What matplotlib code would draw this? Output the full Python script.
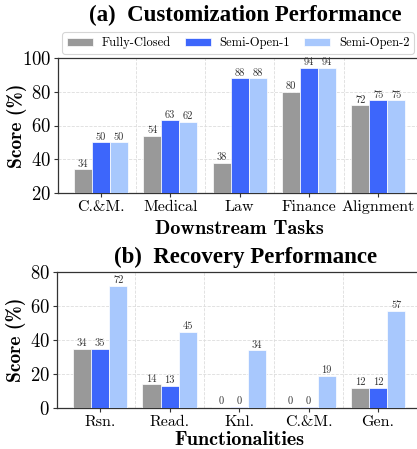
import numpy as np
import matplotlib
matplotlib.use("Agg")
import matplotlib.pyplot as plt
from matplotlib import font_manager as fm
import os

mpl_fonts = os.path.join(matplotlib.get_data_path(), "fonts", "ttf")
cmr_path = os.path.join(mpl_fonts, "cmr10.ttf")
cmb_path = os.path.join(mpl_fonts, "cmb10.ttf")
cmr = fm.FontProperties(fname=cmr_path)
cmb = fm.FontProperties(fname=cmb_path)
plt.rcParams["axes.formatter.use_mathtext"] = True

series = ["Fully-Closed", "Semi-Open-1", "Semi-Open-2"]
colors = ["#999999", "#3d66fb", "#a8c8fd"]

tasks = ["C.&M.", "Medical", "Law", "Finance", "Alignment"]
custom = [
    [34, 54, 38, 80, 72],
    [50, 63, 88, 94, 75],
    [50, 62, 88, 94, 75],
]

funcs = ["Rsn.", "Read.", "Knl.", "C.&M.", "Gen."]
recovery = [
    [34.6, 14, 0.8, 0.8, 12],
    [35, 13, 0.8, 0.8, 12],
    [72, 45, 34, 19, 57],
]

fig = plt.figure(figsize=(4.17, 4.49), dpi=100)
ax1 = fig.add_axes([58 / 417, 1 - 193 / 449, 1 - 58 / 417 + 0.01, 135 / 449])
ax2 = fig.add_axes([57 / 417, 1 - 408 / 449, 1 - 57 / 417 + 0.01, 136 / 449])


def draw(ax, cats, data, ylim, yticks, xlabel, title, title_y, xpad):
    x = np.arange(len(cats))
    w = 0.26
    for i, (vals, c) in enumerate(zip(data, colors)):
        bars = ax.bar(x + (i - 1) * w, vals, w, color=c, edgecolor="white",
                      linewidth=0.5, label=series[i], zorder=3)
        for b, v in zip(bars, vals):
            ax.text(b.get_x() + b.get_width() / 2, v + 0.4,
                    "%d" % int(v), ha="center", va="bottom",
                    fontproperties=cmr, fontsize=7.5, color="#333333", zorder=4)
    ax.set_xlim(-0.62, len(cats) - 0.38)
    ax.set_ylim(*ylim)
    ax.set_yticks(yticks)
    ax.set_xticks(x)
    ax.set_xticklabels(cats)
    ax.set_xticks(x[:-1] + 0.5, minor=True)
    ax.tick_params(axis="x", which="minor", length=0)
    ax.tick_params(axis="x", which="major", length=3, color="#333333", pad=2)
    ax.tick_params(axis="y", length=3, color="#333333", pad=2)
    for lab in ax.get_xticklabels():
        lab.set_fontproperties(cmr)
        lab.set_fontsize(11.5)
    for lab in ax.get_yticklabels():
        lab.set_fontproperties(cmr)
        lab.set_fontsize(13.5)
    ax.grid(True, which="minor", axis="x", linestyle="--", color="#dddddd", lw=0.6, zorder=0)
    ax.grid(True, which="major", axis="y", linestyle="--", color="#dddddd", lw=0.6, zorder=0)
    for s in ax.spines.values():
        s.set_color("#333333")
        s.set_linewidth(0.9)
    ax.set_ylabel("Score (%)", fontproperties=cmb, fontsize=14)
    ax.yaxis.set_label_coords(-0.084, 0.5)
    ax.set_xlabel(xlabel, fontproperties=cmb, fontsize=14.5, labelpad=xpad)
    fig.text(0.588, title_y, title, ha="center", va="center",
             family="Liberation Serif", weight="bold", fontsize=16.5)


draw(ax1, tasks, custom, (20, 100), [20, 40, 60, 80, 100],
     "Downstream Tasks", "(a)  Customization Performance", 1 - 15 / 449, 4)
draw(ax2, funcs, recovery, (0, 80), [0, 20, 40, 60, 80],
     "Functionalities", "(b)  Recovery Performance", 1 - 257 / 449, 1.5)

leg = ax1.legend(loc="lower left", bbox_to_anchor=(0.0, 1.0), ncol=3,
                 prop=fm.FontProperties(fname=cmr_path, size=9),
                 frameon=True, fancybox=True, handlelength=2.1, handleheight=0.7,
                 columnspacing=1.1, borderpad=0.35, handletextpad=0.7,
                 borderaxespad=0.35)
leg.get_frame().set_edgecolor("#cccccc")
leg.get_frame().set_linewidth(0.8)

fig.savefig("out.png", dpi=100)
